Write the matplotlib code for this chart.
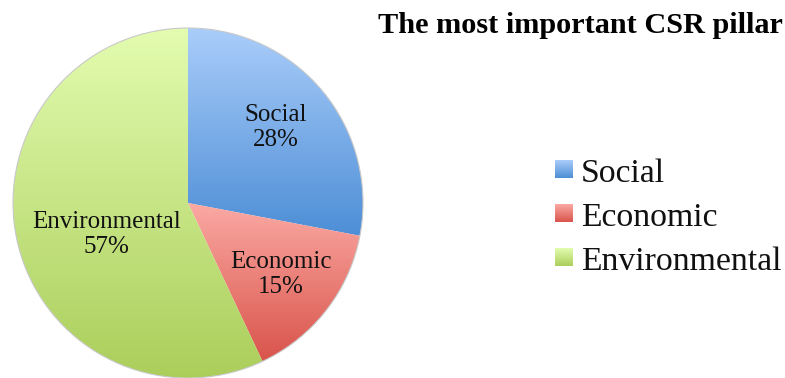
import matplotlib

matplotlib.use("Agg")
import matplotlib.pyplot as plt
import numpy as np
from matplotlib.colors import LinearSegmentedColormap

# data
categories = ["Social", "Economic", "Environmental"]
shares = [28, 15, 57]

# gradient ends (top, bottom) per slice
grad_top = ["#AACDFA", "#FBAAA4", "#E3FCB0"]
grad_bottom = ["#4D8ED6", "#D9544B", "#ABCE5B"]

FONT = ["Liberation Serif", "DejaVu Serif"]
W, H = 785, 378

fig = plt.figure(figsize=(W / 100, H / 100), dpi=100)
ax = fig.add_axes([0, 0, 1, 1])

# pie in pixel-like data units, y measured up from the bottom
cx, cy, R = 188, H - 203, 175
wedges, _ = ax.pie(shares, startangle=90, counterclock=False,
                   center=(cx, cy), radius=R,
                   wedgeprops=dict(facecolor="none", edgecolor="none"))


def gradient_fill(ax, patch, top, bottom, extent):
    cmap = LinearSegmentedColormap.from_list("g", [bottom, top])
    grad = np.linspace(0, 1, 256).reshape(-1, 1)
    im = ax.imshow(grad, cmap=cmap, origin="lower", extent=extent,
                   aspect="auto", interpolation="bilinear", zorder=1)
    im.set_clip_path(patch)
    return im


for w, top, bot in zip(wedges, grad_top, grad_bottom):
    bb = w.get_path().get_extents()
    gradient_fill(ax, w, top, bot, (bb.x0, bb.x1, bb.y0, bb.y1))

# faint outline round the pie
ax.add_patch(plt.Circle((cx, cy), R, fill=False, edgecolor="#C9C9C9",
                        linewidth=0.8, zorder=2))

# slice labels: radial fraction and angle offset from each slice's middle
label_r = [0.66, 0.67, 0.50]
label_da = [1, 0, 8.5]
start = 90.0
for name, val, fr, da in zip(categories, shares, label_r, label_da):
    mid = start - val / sum(shares) * 360 / 2
    start -= val / sum(shares) * 360
    a = np.deg2rad(mid + da)
    ax.text(cx + fr * R * np.cos(a), cy + fr * R * np.sin(a),
            f"{name}\n{val}%", ha="center", va="center", fontsize=18,
            family=FONT, linespacing=1.18, color="#111111", zorder=3)

# title
ax.text(580, H - 33, "The most important CSR pillar", ha="center",
        va="baseline", fontsize=21.8, fontweight="bold", family=FONT,
        color="#000000")

# legend with gradient swatches
lx, ly0, step, sq = 555, 160, 44, 18
for i, (name, top, bot) in enumerate(zip(categories, grad_top, grad_bottom)):
    y_top = H - (ly0 + i * step)
    sw = plt.Rectangle((lx, y_top - sq), sq, sq, facecolor="none",
                       edgecolor="none")
    ax.add_patch(sw)
    gradient_fill(ax, sw, top, bot, (lx, lx + sq, y_top - sq, y_top))
    ax.text(lx + 26, y_top - 22, name, ha="left", va="baseline",
            fontsize=24.3, family=FONT, color="#111111")

ax.set_xlim(0, W)
ax.set_ylim(0, H)
ax.set_aspect("auto")
ax.axis("off")

fig.savefig("out.png", dpi=100, facecolor="white")
